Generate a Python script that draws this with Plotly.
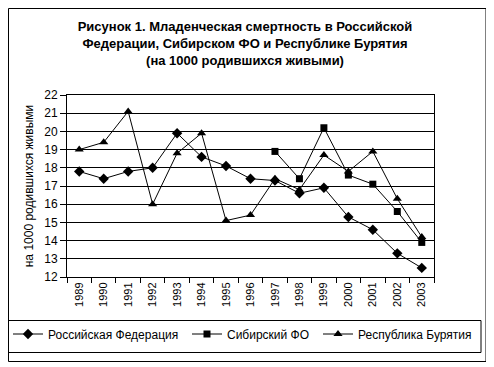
import plotly.graph_objects as go

years = [1989, 1990, 1991, 1992, 1993, 1994, 1995, 1996, 1997, 1998, 1999, 2000, 2001, 2002, 2003]
rf = [17.8, 17.4, 17.8, 18.0, 19.9, 18.6, 18.1, 17.4, 17.3, 16.6, 16.9, 15.3, 14.6, 13.3, 12.5]
sfo_years = [1997, 1998, 1999, 2000, 2001, 2002, 2003]
sfo = [18.9, 17.4, 20.2, 17.6, 17.1, 15.6, 13.9]
bur = [19.0, 19.4, 21.1, 16.0, 18.8, 19.9, 15.1, 15.4, 17.4, 16.8, 18.7, 17.8, 18.9, 16.3, 14.2]

names = ["Российская Федерация", "Сибирский ФО", "Республика Бурятия"]
title = "Рисунок 1. Младенческая смертность в Российской<br>Федерации, Сибирском ФО и Республике Бурятия<br>(на 1000 родившихся живыми)"
ytitle = "на 1000 родившихся живыми"

FONT = "Liberation Sans, Arial, sans-serif"

OFF = 8  # default page body margin
W, H = 494 - OFF, 367 - OFF
# plot area in page pixels
PL, PR, PT, PB = 67, 434, 95, 277
L, R, T, B = PL - OFF, PR - OFF, PT - OFF, PB - OFF

def px(x):
    return (x - PL) / (PR - PL)
def py(y):
    return (PB - y) / (PB - PT)

fig = go.Figure()
fig.add_trace(go.Scatter(x=years, y=rf, name=names[0], mode="lines+markers",
                         line=dict(color="black", width=1), legend="legend",
                         marker=dict(symbol="diamond", size=8, color="black")))
fig.add_trace(go.Scatter(x=sfo_years, y=sfo, name=names[1], mode="lines+markers",
                         line=dict(color="black", width=1), legend="legend2",
                         marker=dict(symbol="square", size=7, color="black")))
fig.add_trace(go.Scatter(x=years, y=bur, name=names[2], mode="lines+markers",
                         line=dict(color="black", width=1), legend="legend3",
                         marker=dict(symbol="triangle-up", size=8, color="black")))

def leg(x):
    return dict(x=px(x), xanchor="left", y=py(334), yanchor="middle",
                font=dict(size=12, family=FONT), bgcolor="rgba(0,0,0,0)",
                borderwidth=0, itemwidth=30)

fig.update_layout(
    width=W, height=H,
    margin=dict(l=L, r=W - R, t=T, b=H - B, autoexpand=False),
    paper_bgcolor="white", plot_bgcolor="white",
    font=dict(family=FONT, size=12, color="black"),
    title=dict(text="<b>" + title + "</b>", x=(245 - OFF) / W, xanchor="center",
               y=1 - 23 / H, yanchor="top",
               font=dict(size=13, family=FONT)),
    showlegend=True,
    legend=leg(8),
    legend2=leg(187),
    legend3=leg(318),
    xaxis=dict(range=[1988.5, 2003.5], tickvals=years, ticktext=[str(y) for y in years],
               tickangle=-90, ticks="", showgrid=False, showline=True, linecolor="black",
               linewidth=1, mirror=True, zeroline=False, tickfont=dict(size=11),
               minor=dict(ticks="outside", tick0=1988.5, dtick=1, ticklen=5,
                          tickcolor="black", showgrid=False)),
    yaxis=dict(range=[12, 22], dtick=1, ticks="outside", ticklen=6, tickcolor="black",
               showgrid=True, gridcolor="black", gridwidth=1, showline=True,
               linecolor="black", linewidth=1, mirror=True, zeroline=False,
               tickfont=dict(size=12),
               title=dict(text=ytitle, font=dict(size=12), standoff=8)),
    shapes=[
        dict(type="rect", xref="paper", yref="paper", x0=px(8.5), x1=px(486), y0=py(361.5), y1=py(8.5),
             line=dict(color="black", width=1)),
        dict(type="rect", xref="paper", yref="paper", x0=px(8.5), x1=px(481), y0=py(352.5), y1=py(320.5),
             line=dict(color="black", width=1)),
    ],
)

fig.write_html("out.html")
